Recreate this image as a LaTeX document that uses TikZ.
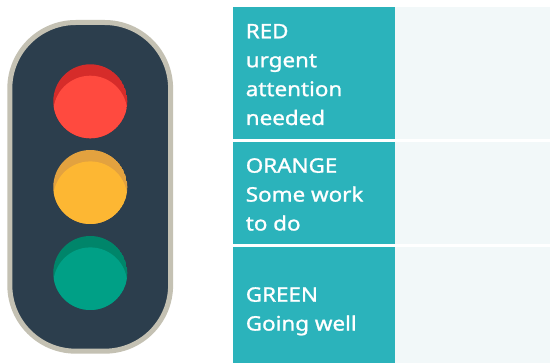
\documentclass[tikz,border=0pt]{standalone}
\usepackage{fontspec}
\setmainfont{Noto Sans}[FakeStretch=1.12,FakeBold=1.2]
\definecolor{rim}{HTML}{C4C1B3}
\definecolor{body}{HTML}{2C3E4D}
\definecolor{reddark}{HTML}{D62C2A}
\definecolor{redlight}{HTML}{FF4A3F}
\definecolor{ordark}{HTML}{E3A23F}
\definecolor{orlight}{HTML}{FDB733}
\definecolor{grdark}{HTML}{00856A}
\definecolor{grlight}{HTML}{00A086}
\definecolor{teal}{HTML}{2BB3BB}
\definecolor{pale}{HTML}{F2F8F9}
\tikzset{
  lbl/.style={inner sep=0pt, anchor=base west, text=white, font=\fontsize{20pt}{28.9pt}\selectfont},
  cellA/.style={fill=teal},
  cellB/.style={fill=pale}
}
\newcommand{\lamp}[3]{%
  \begin{scope}
    \clip (90.3,#1) circle[radius=37pt];
    \fill[#2] (90.3,#1) circle[radius=37pt];
    \fill[#3] (90.3,#1+11.4) circle[radius=37pt];
  \end{scope}}
\begin{document}
\begin{tikzpicture}[x=1pt,y=-1pt]
\useasboundingbox (0,0) rectangle (550,363);
\fill[white] (0,0) rectangle (550,363);
% traffic light
\draw[line width=5pt, draw=rim, fill=body, rounded corners=66pt] (9.8,22.5) rectangle (170.6,351.2);
\lamp{101.3}{reddark}{redlight}
\lamp{187}{ordark}{orlight}
\lamp{273}{grdark}{grlight}
% table
\fill[cellA] (232.7,7.3) rectangle (395,138.6);
\fill[cellB] (395,7.3) rectangle (550,138.6);
\fill[cellA] (232.7,141.7) rectangle (395,244.3);
\fill[cellB] (395,141.7) rectangle (550,244.3);
\fill[cellA] (232.7,247.3) rectangle (395,363);
\fill[cellB] (395,247.3) rectangle (550,363);
\node[lbl] (tred) at (245.6,38.3) {\parbox[t]{140pt}{RED\\urgent\\attention\\needed}};
\node[lbl] (torange) at (245.6,172.7) {\parbox[t]{140pt}{ORANGE\\Some work\\to do}};
\node[lbl] (tgreen) at (245.6,301.7) {\parbox[t]{140pt}{GREEN\\Going well}};
\end{tikzpicture}
\end{document}
